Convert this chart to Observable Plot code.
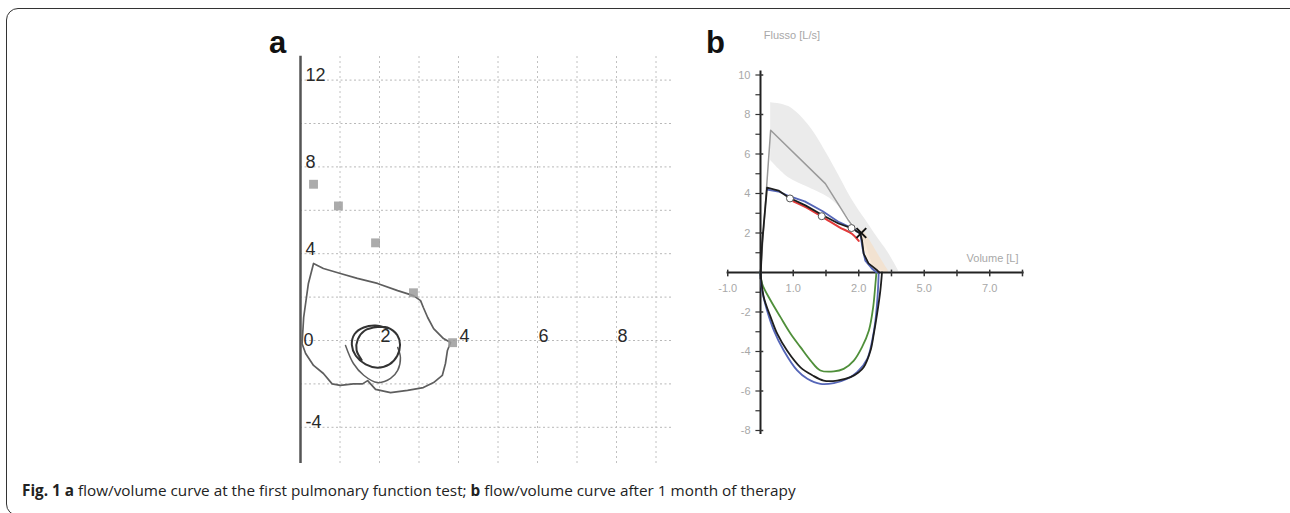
<!DOCTYPE html>
<html>
<head>
<meta charset="utf-8">
<script src="https://cdn.jsdelivr.net/npm/d3@7"></script>
<script src="https://cdn.jsdelivr.net/npm/@observablehq/plot@0.6"></script>
<style>
  body { margin: 0; background: #fff; }
  #root { position: relative; width: 1290px; height: 513px; overflow: hidden; background: #fff; font-family: "Liberation Sans", Arial, sans-serif; }
  #frame { position: absolute; left: 6px; top: 8px; width: 1300px; height: 508px; border: 1.5px solid #333; border-radius: 12px; box-sizing: border-box; }
  .panel { position: absolute; font-family: "Liberation Sans", Arial, sans-serif; font-weight: bold; font-size: 31px; color: #111; line-height: 1; }
  #plotA { position: absolute; left: 270px; top: 40px; }
  #plotB { position: absolute; left: 700px; top: 0px; }
  #caption { position: absolute; left: 22px; top: 480px; font-family: "Open Sans", "Noto Sans", sans-serif; font-size: 15.3px; color: #222; white-space: nowrap; }
  #caption b { font-weight: 700; }
</style>
</head>
<body>
<div id="root">
  <div id="frame"></div>
  <div class="panel" style="left:269px;top:27px;">a</div>
  <div class="panel" style="left:706px;top:27px;">b</div>
  <div id="plotA"></div>
  <div id="plotB"></div>
  <div id="caption"><b>Fig. 1</b> <b>a</b> flow/volume curve at the first pulmonary function test; <b>b</b> flow/volume curve after 1 month of therapy</div>
</div>
<script>
// ---------------- Panel a data ----------------
const aGridX = [1, 2, 3, 4, 5, 6, 7, 8, 9];
const aGridY = [12, 10, 8, 6, 4, 2, 0, -2, -4];
const aYLabels = [12, 8, 4, -4];
const aXLabels = [2, 4, 6, 8];
// outer flow/volume loop (volume L, flow L/s)
const aLoopX = [0.04, 0.08, 0.2, 0.33, 0.58, 1.01, 1.44, 1.95, 2.46, 2.86, 3.04, 3.11, 3.22, 3.37, 3.62, 3.80,
                3.72, 3.67, 3.59, 3.37, 3.11, 2.71, 2.28, 1.9, 1.7, 1.57, 1.34, 1.01, 0.8, 0.58, 0.33, 0.13, 0.04];
const aLoopY = [-0.15, 1.06, 2.63, 3.55, 3.32, 3.09, 2.86, 2.63, 2.30, 2.07, 1.84, 1.52, 1.06, 0.55, 0.09, -0.09,
                -0.46, -1.06, -1.61, -1.94, -2.17, -2.30, -2.40, -2.25, -1.85, -2.0, -2.0, -2.07, -2.0, -1.52, -1.15, -0.6, -0.15];
// small inner loop
const aCircleX = [2.2, 1.9, 1.6, 1.37, 1.3, 1.4, 1.65, 1.95, 2.25, 2.45, 2.52, 2.45, 2.2, 1.95, 1.62, 1.45, 1.42, 1.55];
const aCircleY = [0.55, 0.69, 0.6, 0.3, -0.2, -0.7, -1.1, -1.25, -1.1, -0.7, -0.2, 0.25, 0.6, 0.62, 0.45, 0.05, -0.45, -0.9];
// partial arc around the inner loop
const aArcX = [1.14, 1.34, 1.6, 1.95, 2.28, 2.46, 2.53, 2.46];
const aArcY = [-0.23, -1.06, -1.6, -1.94, -1.75, -1.38, -0.78, -0.32];
// predicted-value markers
const aPredX = [0.33, 0.96, 1.9, 2.86, 3.85];
const aPredY = [7.2, 6.2, 4.5, 2.2, -0.1];

// ---------------- Panel b data ----------------
const bYTicks = [-8,-7,-6,-5,-4,-3,-2,-1,0,1,2,3,4,5,6,7,8,9,10];
const bYLabelVals = [10, 8, 6, 4, 2, -2, -4, -6, -8];
const bYLabelText = ["10", "8", "6", "4", "2", "-2", "-4", "-6", "-8"];
const bXTicks = [-1, 0, 1, 2, 3, 4, 5, 6, 7, 8];
const bXLabelVals = [-1, 1, 3, 5, 7];
const bXLabelText = ["-1.0", "1.0", "2.0", "5.0", "7.0"];
// predicted band
const bandX  = [0.31, 0.86, 1.47, 2.2, 2.81, 3.2, 3.5, 3.9, 4.21];
const bandHi = [8.6, 8.4, 7.45, 5.5, 3.65, 2.68, 1.94, 1.0, 0.1];
const bandLo = [5.67, 4.8, 4.3, 3.65, 2.5, 1.47, 0.25, 0.05, 0.05];
// light orange tint near the end of expiration
const tintX  = [3.1, 3.35, 3.6, 3.9];
const tintHi = [2.2, 1.6, 0.9, 0.1];
const tintLo = [1.4, 0.5, 0.05, 0.0];
// predicted curve
const predX = [0, 0.31, 1.98, 2.69, 2.95];
const predY = [0, 7.2, 4.5, 2.63, 2.05];
// expiration curves
const expBlackX = [0, 0.05, 0.2, 0.55, 0.86, 1.37, 1.9, 2.38, 2.8, 3.05, 3.1, 3.15, 3.3, 3.57, 3.63];
const expBlackY = [-0.3, 1.5, 4.3, 4.15, 3.8, 3.4, 2.9, 2.48, 2.23, 1.97, 1.62, 0.96, 0.46, 0.1, 0];
const expBlueX = [0.2, 0.55, 0.9, 1.35, 1.9, 2.4, 2.85, 3.05, 3.12, 3.2, 3.4, 3.55];
const expBlueY = [4.2, 4.1, 3.85, 3.6, 3.1, 2.55, 2.2, 1.95, 1.2, 0.6, 0.2, 0];
const expRedX = [1.0, 1.5, 2.0, 2.4, 2.8, 3.0];
const expRedY = [3.6, 3.2, 2.7, 2.3, 1.95, 1.6];
const circX = [0.9, 1.87, 2.78];
const circY = [3.75, 2.85, 2.25];
const crossX = [3.08];
const crossY = [2.0];
// inspiration curves
const insBlackX = [0, 0.1, 0.31, 0.51, 0.81, 1.22, 1.58, 1.93, 2.34, 2.75, 3.0, 3.15, 3.36, 3.46, 3.56, 3.66, 3.71];
const insBlackY = [0, -1.25, -2.26, -3.1, -3.95, -4.8, -5.2, -5.47, -5.47, -5.3, -5.05, -4.8, -3.95, -3.1, -2.1, -0.9, 0];
const insBlueX = [0, 0.05, 0.2, 0.41, 0.71, 1.12, 1.43, 1.83, 2.24, 2.65, 2.95, 3.26, 3.41, 3.51, 3.58, 3.61];
const insBlueY = [0, -0.9, -1.92, -2.94, -3.95, -4.96, -5.38, -5.64, -5.6, -5.38, -5.05, -4.37, -3.44, -2.43, -1.08, 0];
const insGreenX = [0, 0.05, 0.31, 0.61, 0.92, 1.22, 1.53, 1.83, 2.24, 2.54, 2.85, 3.1, 3.31, 3.44, 3.51, 3.54];
const insGreenY = [0, -0.57, -1.42, -2.26, -3.1, -3.78, -4.46, -4.96, -5.01, -4.88, -4.46, -3.78, -2.94, -1.76, -0.57, 0];

const pts = (xs, ys) => xs.map((x, i) => ({x, y: ys[i]}));
const ids = (xs, ys) => xs.map((x, i) => ({x, lab: ys[i]}));

// ---------------- Panel a plot ----------------
const labFont = {fontFamily: "Liberation Sans, Arial, sans-serif", fontSize: 18, fill: "#2a2a2a"};
const plotA = Plot.plot({
  width: 420, height: 440, margin: 0,
  style: {background: "transparent", overflow: "visible"},
  x: {domain: [0, 9.5], range: [30, 405.25], axis: null},
  y: {domain: [-6, 13.5], range: [430.2, 7.05], axis: null},
  marks: [
    Plot.ruleY(aGridY, {y: d => d, x1: 0, x2: 9.45, stroke: "#b8b8b8", strokeWidth: 1, strokeDasharray: "2,2.5"}),
    Plot.ruleX(aGridX, {x: d => d, y1: -5.67, y2: 13.2, stroke: "#c0c0c0", strokeWidth: 1, strokeDasharray: "2,3"}),
    Plot.ruleX([0], {x: d => d, y1: -5.67, y2: 13.1, stroke: "#555", strokeWidth: 2.5}),
    Plot.line(pts(aLoopX, aLoopY), {x: "x", y: "y", stroke: "#5e5e5e", strokeWidth: 1.7}),
    Plot.line(pts(aArcX, aArcY), {x: "x", y: "y", stroke: "#5e5e5e", strokeWidth: 1.5, curve: "catmull-rom"}),
    Plot.line(pts(aCircleX, aCircleY), {x: "x", y: "y", stroke: "#333", strokeWidth: 2, curve: "catmull-rom"}),
    Plot.dot(pts(aPredX, aPredY), {x: "x", y: "y", symbol: "square", r: 5, fill: "#9c9c9c", fillOpacity: 0.85}),
    Plot.text(aYLabels, {x: 0, y: d => d, text: d => String(d), dx: 5, dy: 1, textAnchor: "start", lineAnchor: "bottom", ...labFont}),
    Plot.text([0], {x: 0, y: 0, text: d => String(d), dx: 3, dy: 5, textAnchor: "start", lineAnchor: "bottom", ...labFont}),
    Plot.text(aXLabels, {x: d => d, y: 0, text: d => String(d), dx: 1, dy: 1, textAnchor: "start", lineAnchor: "bottom", ...labFont})
  ]
});
document.getElementById("plotA").appendChild(plotA);

// ---------------- Panel b plot ----------------
const grayFont = {fontFamily: "Liberation Sans, Arial, sans-serif", fontSize: 11, fill: "#a8a8a8"};
const plotB = Plot.plot({
  width: 340, height: 470, margin: 0,
  style: {background: "transparent", overflow: "visible"},
  x: {domain: [-1.2, 8.3], range: [20.7, 331.8], axis: null},
  y: {domain: [-9, 13], range: [449.75, 15.25], axis: null},
  marks: [
    Plot.areaY(bandX.map((x, i) => ({x, lo: bandLo[i], hi: bandHi[i]})), {x: "x", y1: "lo", y2: "hi", fill: "#ebebeb", curve: "catmull-rom"}),
    Plot.areaY(tintX.map((x, i) => ({x, lo: tintLo[i], hi: tintHi[i]})), {x: "x", y1: "lo", y2: "hi", fill: "#f6dcc0", fillOpacity: 0.6, curve: "catmull-rom"}),
    Plot.line(pts(predX, predY), {x: "x", y: "y", stroke: "#9a9a9a", strokeWidth: 1.5}),
    Plot.ruleY([0], {y: d => d, x1: -1.02, x2: 8.05, stroke: "#222", strokeWidth: 2}),
    Plot.ruleX([0], {x: d => d, y1: -8.2, y2: 10.2, stroke: "#222", strokeWidth: 2}),
    Plot.ruleX(bXTicks, {x: d => d, y1: -0.22, y2: 0.12, stroke: "#333", strokeWidth: 1.5}),
    Plot.ruleY(bYTicks, {y: d => d, x1: -0.14, x2: 0, stroke: "#333", strokeWidth: 1.2}),
    Plot.ruleY(bYLabelVals, {y: d => d, x1: 0, x2: 0.1, stroke: "#333", strokeWidth: 1.5}),
    Plot.line(pts(insGreenX, insGreenY), {x: "x", y: "y", stroke: "#4f8f3a", strokeWidth: 1.8, curve: "catmull-rom"}),
    Plot.line(pts(insBlueX, insBlueY), {x: "x", y: "y", stroke: "#5566b8", strokeWidth: 1.8, curve: "catmull-rom"}),
    Plot.line(pts(insBlackX, insBlackY), {x: "x", y: "y", stroke: "#1e1e1e", strokeWidth: 1.8, curve: "catmull-rom"}),
    Plot.line(pts(expRedX, expRedY), {x: "x", y: "y", stroke: "#e23a3a", strokeWidth: 2, curve: "catmull-rom"}),
    Plot.line(pts(expBlueX, expBlueY), {x: "x", y: "y", stroke: "#5566b8", strokeWidth: 1.8}),
    Plot.line(pts(expBlackX, expBlackY), {x: "x", y: "y", stroke: "#1e1e1e", strokeWidth: 1.8}),
    Plot.dot(pts(circX, circY), {x: "x", y: "y", r: 3.5, fill: "#fff", stroke: "#555", strokeWidth: 1}),
    Plot.dot(pts(crossX, crossY), {x: "x", y: "y", symbol: "times", r: 4.5, stroke: "#111", strokeWidth: 2}),
    Plot.text(ids(bYLabelVals, bYLabelText), {x: 0, y: "x", text: "lab", dx: -10, textAnchor: "end", ...grayFont}),
    Plot.text(ids(bXLabelVals, bXLabelText), {x: "x", y: 0, text: "lab", dy: 16, textAnchor: "middle", ...grayFont}),
    Plot.text(["Flusso [L/s]"], {x: 0.1, y: 12, text: d => d, textAnchor: "start", ...grayFont}),
    Plot.text(["Volume [L]"], {x: 7.88, y: 0.7, text: d => d, textAnchor: "end", ...grayFont})
  ]
});
document.getElementById("plotB").appendChild(plotB);
</script>
</body>
</html>
